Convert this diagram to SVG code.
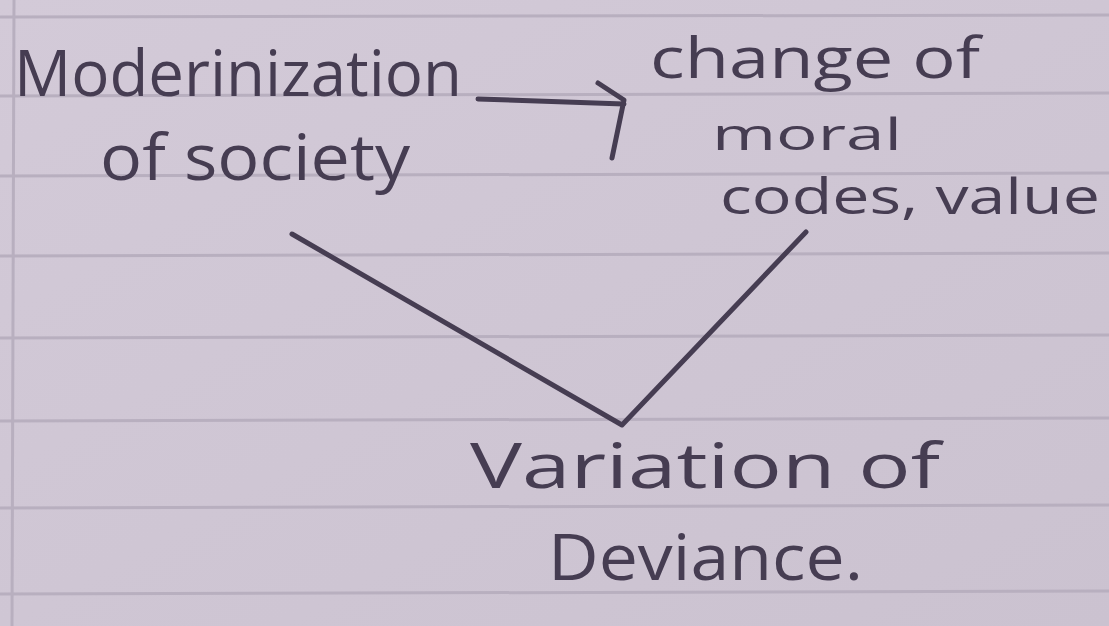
<svg xmlns="http://www.w3.org/2000/svg" width="1109" height="626" viewBox="0 0 1109 626">
<style>
.rule{stroke:#b8afbf;stroke-width:3}
.ink{fill:#463d52;font-family:"Open Sans","Liberation Sans",sans-serif;font-weight:400}
.conn{fill:none;stroke:#463d52;stroke-width:5;stroke-linecap:round;stroke-linejoin:round}
</style>
<defs>
<linearGradient id="paper" x1="0" y1="0" x2="1" y2="1">
<stop offset="0" stop-color="#d3cad8"/>
<stop offset="1" stop-color="#cbc2d0"/>
</linearGradient>
</defs>
<rect width="1109" height="626" fill="url(#paper)"/>
<g id="ruling">
<line class="rule" x1="0" y1="17" x2="1109" y2="15"/>
<line class="rule" x1="0" y1="96" x2="1109" y2="93"/>
<line class="rule" x1="0" y1="176" x2="1109" y2="173"/>
<line class="rule" x1="0" y1="256" x2="1109" y2="253"/>
<line class="rule" x1="0" y1="338" x2="1109" y2="335"/>
<line class="rule" x1="0" y1="421" x2="1109" y2="418"/>
<line class="rule" x1="0" y1="508" x2="1109" y2="505"/>
<line class="rule" x1="0" y1="594" x2="1109" y2="591"/>
<line class="rule" x1="14" y1="0" x2="12" y2="626" stroke-width="2"/>
</g>
<g id="connectors">
<path class="conn" d="M478 99 L624 104"/>
<path class="conn" d="M598 83 L624 100 L612 158"/>
<path class="conn" d="M292 234 L622 425 L806 232"/>
</g>
<g id="node-modernization">
<text class="ink" x="14" y="96" font-size="64" textLength="448" lengthAdjust="spacingAndGlyphs">Moderinization</text>
<text class="ink" x="100" y="180" font-size="64" textLength="310" lengthAdjust="spacingAndGlyphs">of society</text>
</g>
<g id="node-change">
<text class="ink" x="650" y="78" font-size="56" textLength="330" lengthAdjust="spacingAndGlyphs">change of</text>
<text class="ink" x="712" y="150" font-size="44" textLength="190" lengthAdjust="spacingAndGlyphs">moral</text>
<text class="ink" x="720" y="214" font-size="50" textLength="380" lengthAdjust="spacingAndGlyphs">codes, value</text>
</g>
<g id="node-variation">
<text class="ink" x="470" y="488" font-size="62" textLength="470" lengthAdjust="spacingAndGlyphs">Variation of</text>
<text class="ink" x="548" y="580" font-size="64" textLength="315" lengthAdjust="spacingAndGlyphs">Deviance.</text>
</g>
</svg>
